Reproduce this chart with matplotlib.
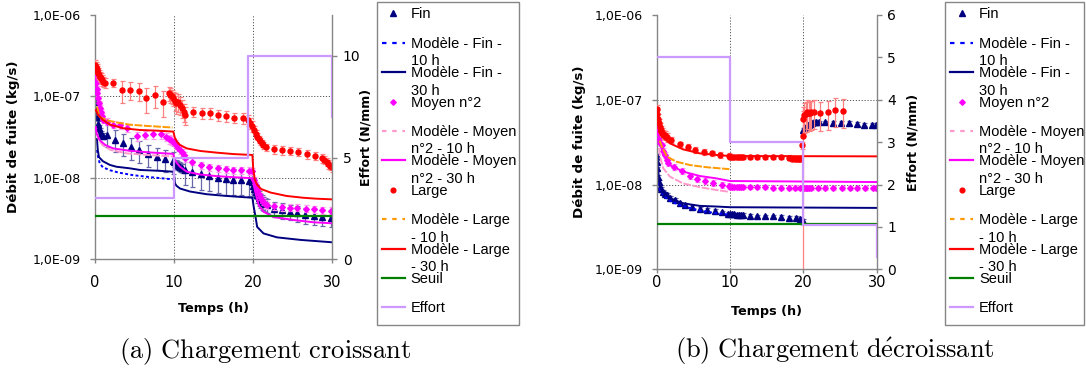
import matplotlib
matplotlib.use('Agg')
import matplotlib.pyplot as plt
from matplotlib.lines import Line2D
from matplotlib.patches import Rectangle
import numpy as np

plt.rcParams['mathtext.fontset'] = 'cm'
plt.rcParams['font.family'] = ['DejaVu Sans']

# ------------------------------------------------------------------ data (a)
a_fin_t = [0.0, 0.1, 0.2, 0.35, 0.5, 0.65, 0.8, 1.05, 1.5, 2.5, 3.6, 4.6, 5.6, 6.7, 7.8, 8.9, 9.8,
           10.0, 10.2, 10.4, 10.6, 10.8, 11.0, 11.4, 12.3, 13.4, 14.4, 15.5, 16.5, 17.5, 18.5, 19.5, 19.8,
           20.0, 20.1, 20.3, 20.5, 20.7, 20.9, 21.1, 21.3, 21.5, 21.7, 22.6, 23.6, 24.6, 25.6, 26.6, 27.7, 28.7, 29.8]
a_fin_v = [8.6e-8, 6.8e-8, 5.6e-8, 4.6e-8, 4.1e-8, 3.8e-8, 3.5e-8, 3.3e-8, 3.4e-8, 2.95e-8, 2.65e-8, 2.4e-8, 2.18e-8, 1.95e-8, 1.8e-8, 1.7e-8, 1.6e-8,
           1.55e-8, 1.48e-8, 1.42e-8, 1.38e-8, 1.35e-8, 1.32e-8, 1.25e-8, 1.19e-8, 1.1e-8, 1.05e-8, 1.0e-8, 9.6e-9, 9.4e-9, 9.4e-9, 9.1e-9, 8.9e-9,
           8.0e-9, 7.4e-9, 6.8e-9, 6.2e-9, 5.7e-9, 5.3e-9, 5.1e-9, 4.9e-9, 4.75e-9, 4.6e-9, 4.2e-9, 4.0e-9, 3.85e-9, 3.67e-9, 3.5e-9, 3.4e-9, 3.33e-9, 3.24e-9]
a_fin_e = [0.08, 0.08, 0.08, 0.08, 0.08, 0.08, 0.08, 0.08, 0.3, 0.3, 0.3, 0.3, 0.3, 0.3, 0.3, 0.3, 0.3,
           0.12, 0.12, 0.12, 0.12, 0.12, 0.12, 0.35, 0.35, 0.35, 0.35, 0.35, 0.35, 0.35, 0.35, 0.35, 0.35,
           0.2, 0.2, 0.2, 0.2, 0.2, 0.2, 0.2, 0.2, 0.2, 0.2, 0.22, 0.22, 0.22, 0.22, 0.22, 0.22, 0.22, 0.22]

a_moy_t = [0.0, 0.05, 0.1, 0.2, 0.3, 0.4, 0.5, 0.6, 0.75, 0.9, 1.05, 1.5, 2.3, 3.1, 4.1, 5.3, 6.3, 7.3, 8.3,
           9.0, 9.3, 9.6, 9.9, 10.1, 10.3, 10.5, 10.75, 11.0, 11.2, 11.4, 12.3, 13.4, 14.4, 15.5, 16.5, 17.5, 18.5, 19.5, 19.8,
           20.1, 20.3, 20.5, 20.7, 20.9, 21.1, 21.3, 21.5, 21.7, 22.6, 23.6, 24.7, 25.6, 26.7, 27.7, 28.7, 29.8]
a_moy_v = [1.9e-7, 1.65e-7, 1.45e-7, 1.25e-7, 1.1e-7, 9.5e-8, 8.2e-8, 7.2e-8, 6.5e-8, 5.8e-8, 5.1e-8, 4.9e-8, 4.5e-8, 4.4e-8, 4.1e-8, 3.25e-8, 3.4e-8, 3.45e-8, 3.45e-8,
           3.2e-8, 3.0e-8, 2.9e-8, 2.78e-8, 2.65e-8, 2.5e-8, 2.35e-8, 2.2e-8, 2.05e-8, 1.9e-8, 1.74e-8, 1.58e-8, 1.44e-8, 1.35e-8, 1.31e-8, 1.27e-8, 1.25e-8, 1.25e-8, 1.22e-8, 1.2e-8,
           9.4e-9, 8.2e-9, 7.1e-9, 6.4e-9, 5.9e-9, 5.4e-9, 5.1e-9, 4.8e-9, 4.6e-9, 4.5e-9, 4.4e-9, 4.3e-9, 4.3e-9, 4.2e-9, 4.1e-9, 4.0e-9, 3.95e-9]
a_moy_e = [0.08, 0.08, 0.08, 0.08, 0.08, 0.08, 0.08, 0.08, 0.08, 0.08, 0.08, 0.1, 0.1, 0.1, 0.1, 0.12, 0.12, 0.12, 0.12,
           0.12, 0.12, 0.12, 0.12, 0.1, 0.1, 0.1, 0.1, 0.1, 0.1, 0.1, 0.1, 0.1, 0.1, 0.1, 0.1, 0.1, 0.1, 0.1, 0.1,
           0.1, 0.1, 0.1, 0.1, 0.1, 0.1, 0.1, 0.1, 0.1, 0.1, 0.1, 0.1, 0.1, 0.1, 0.1, 0.1, 0.1]

a_lar_t = [0.0, 0.1, 0.2, 0.3, 0.4, 0.5, 0.6, 0.75, 0.85, 1.05, 1.25, 2.3, 3.4, 4.4, 5.5, 6.4, 7.6, 8.6,
           9.3, 9.5, 9.7, 9.9, 10.1, 10.3, 10.5, 10.75, 11.0, 11.2, 11.4, 12.4, 13.5, 14.5, 15.6, 16.6, 17.6, 18.7, 19.3, 19.6, 19.9,
           20.1, 20.3, 20.5, 20.7, 20.9, 21.1, 21.3, 21.6, 22.6, 23.6, 24.7, 25.7, 26.8, 27.8, 28.7, 29.0, 29.3, 29.5, 29.7, 29.9]
a_lar_v = [2.45e-7, 2.3e-7, 2.2e-7, 2.05e-7, 1.92e-7, 1.85e-7, 1.75e-7, 1.68e-7, 1.6e-7, 1.52e-7, 1.48e-7, 1.48e-7, 1.2e-7, 1.2e-7, 1.17e-7, 9.5e-8, 1.04e-7, 8.6e-8,
           1.1e-7, 1.05e-7, 1.0e-7, 9.5e-8, 8.8e-8, 8.2e-8, 8.5e-8, 7.9e-8, 7.2e-8, 6.5e-8, 5.9e-8, 6.5e-8, 6.3e-8, 6.2e-8, 5.9e-8, 5.75e-8, 5.5e-8, 5.4e-8, 5.1e-8, 4.7e-8, 4.3e-8,
           3.9e-8, 3.5e-8, 3.2e-8, 3.0e-8, 2.8e-8, 2.65e-8, 2.5e-8, 2.4e-8, 2.26e-8, 2.2e-8, 2.16e-8, 2.1e-8, 1.96e-8, 1.86e-8, 1.74e-8, 1.66e-8, 1.58e-8, 1.48e-8, 1.4e-8, 1.35e-8]
a_lar_e = [0.15, 0.15, 0.15, 0.15, 0.15, 0.15, 0.15, 0.15, 0.15, 0.15, 0.15, 0.12, 0.3, 0.25, 0.25, 0.35, 0.3, 0.35,
           0.2, 0.2, 0.2, 0.2, 0.25, 0.25, 0.25, 0.25, 0.25, 0.25, 0.25, 0.15, 0.15, 0.15, 0.15, 0.15, 0.15, 0.15, 0.15, 0.15, 0.15,
           0.1, 0.1, 0.1, 0.1, 0.1, 0.1, 0.1, 0.1, 0.12, 0.12, 0.12, 0.12, 0.12, 0.12, 0.12, 0.12, 0.12, 0.12, 0.12, 0.12]

a_f10_t = [0.25, 0.4, 0.6, 1.0, 1.9, 3.0, 4.8, 7.0, 9.8]
a_f10_v = [2.2e-8, 1.8e-8, 1.5e-8, 1.35e-8, 1.24e-8, 1.16e-8, 1.08e-8, 1.02e-8, 9.6e-9]
a_f30_t = [0.25, 0.35, 0.5, 1.0, 1.9, 2.7, 4.4, 5.7, 8.2, 9.9, 10.05, 10.1, 10.3, 10.75, 12.0, 14.1, 16.6, 19.9,
           20.05, 20.3, 20.5, 21.3, 23.0, 26.0, 29.9]
a_f30_v = [3.0e-8, 2.2e-8, 1.8e-8, 1.6e-8, 1.44e-8, 1.37e-8, 1.31e-8, 1.25e-8, 1.22e-8, 1.19e-8, 1.0e-8, 8.6e-9, 8.0e-9, 7.4e-9, 6.8e-9, 6.3e-9, 6.0e-9, 5.7e-9,
           4.5e-9, 3.3e-9, 2.5e-9, 2.08e-9, 1.86e-9, 1.73e-9, 1.62e-9]
a_m10_t = [0.25, 0.5, 1.0, 2.0, 4.0, 7.0, 9.9]
a_m10_v = [3.6e-8, 2.9e-8, 2.5e-8, 2.2e-8, 2.0e-8, 1.9e-8, 1.83e-8]
a_m30_t = [0.1, 0.2, 0.6, 1.3, 2.3, 4.4, 7.0, 9.9, 10.1, 10.4, 10.75, 11.6, 13.3, 15.4, 17.5, 19.9,
           20.1, 20.3, 20.7, 21.3, 22.6, 25.1, 27.6, 29.9]
a_m30_v = [4.2e-8, 3.5e-8, 2.9e-8, 2.53e-8, 2.3e-8, 2.15e-8, 2.05e-8, 1.97e-8, 1.66e-8, 1.5e-8, 1.37e-8, 1.19e-8, 1.1e-8, 1.05e-8, 1.02e-8, 9.9e-9,
           8.0e-9, 6.5e-9, 4.6e-9, 3.85e-9, 3.3e-9, 3.04e-9, 2.85e-9, 2.77e-9]
a_l10_t = [0.25, 0.6, 1.5, 2.7, 4.4, 6.5, 9.8]
a_l10_v = [7.5e-8, 5.6e-8, 5.1e-8, 4.8e-8, 4.5e-8, 4.35e-8, 4.15e-8]
a_l30_t = [0.1, 0.4, 1.05, 1.9, 3.6, 5.7, 7.8, 9.9, 10.1, 10.4, 10.75, 11.6, 13.3, 15.4, 17.5, 19.9,
           20.0, 20.2, 20.5, 21.0, 22.2, 24.2, 26.3, 28.0, 29.9]
a_l30_v = [6.8e-8, 5.9e-8, 5.1e-8, 4.5e-8, 4.06e-8, 3.87e-8, 3.8e-8, 3.7e-8, 3.1e-8, 2.75e-8, 2.53e-8, 2.3e-8, 2.14e-8, 2.04e-8, 1.96e-8, 1.91e-8,
           1.3e-8, 9.5e-9, 8.2e-9, 7.3e-9, 6.6e-9, 6.0e-9, 5.7e-9, 5.55e-9, 5.45e-9]
a_seuil_t = [0.0, 30.0]
a_seuil_v = [3.4e-9, 3.4e-9]
a_eff_t = [0.0, 10.0, 10.0, 19.4, 19.4, 30.0, 30.0]
a_eff_v = [3.0, 3.0, 5.0, 5.0, 10.0, 10.0, 7.0]

# ------------------------------------------------------------------ data (b)
b_fin_t = [0.0, 0.05, 0.1, 0.2, 0.3, 0.45, 0.6, 0.9, 1.1, 1.4, 1.8, 2.5, 3.2, 3.9, 4.8, 5.9, 6.9, 7.9, 8.9, 9.7,
           10.0, 10.3, 10.6, 10.9, 11.2, 11.5, 11.8, 12.7, 13.7, 14.8, 15.9, 16.9, 18.1, 19.0, 19.5, 19.9,
           20.0, 20.2, 20.4, 20.6, 20.8, 21.0, 21.2, 21.4, 21.7, 22.1, 23.0, 24.0, 25.1, 26.2, 27.3, 28.3, 29.3, 29.9]
b_fin_v = [2.2e-8, 1.85e-8, 1.55e-8, 1.24e-8, 1.08e-8, 9.4e-9, 8.8e-9, 8.2e-9, 7.8e-9, 7.5e-9, 6.9e-9, 6.6e-9, 6.0e-9, 5.7e-9, 5.4e-9, 5.2e-9, 5.0e-9, 4.9e-9, 4.7e-9, 4.55e-9,
           4.5e-9, 4.45e-9, 4.45e-9, 4.4e-9, 4.4e-9, 4.4e-9, 4.35e-9, 4.25e-9, 4.2e-9, 4.2e-9, 4.2e-9, 4.15e-9, 4.0e-9, 4.0e-9, 3.9e-9, 3.7e-9,
           4.4e-8, 4.6e-8, 4.8e-8, 5.0e-8, 5.1e-8, 5.2e-8, 5.3e-8, 5.4e-8, 5.4e-8, 5.4e-8, 5.4e-8, 5.3e-8, 5.3e-8, 5.3e-8, 5.2e-8, 5.1e-8, 5.1e-8, 5.1e-8]
b_fin_e = [0.05, 0.05, 0.05, 0.05, 0.05, 0.05, 0.05, 0.05, 0.05, 0.05, 0.05, 0.05, 0.05, 0.05, 0.05, 0.05, 0.05, 0.05, 0.05, 0.05,
           0.05, 0.05, 0.05, 0.05, 0.05, 0.05, 0.05, 0.05, 0.05, 0.05, 0.05, 0.05, 0.05, 0.05, 0.05, 0.05,
           0.06, 0.06, 0.06, 0.06, 0.06, 0.06, 0.06, 0.06, 0.06, 0.05, 0.05, 0.05, 0.05, 0.05, 0.05, 0.05, 0.05, 0.05]

b_moy_t = [0.0, 0.05, 0.2, 0.35, 0.5, 0.7, 0.9, 1.1, 1.35, 1.6, 2.3, 3.4, 4.5, 5.5, 6.6, 7.7, 8.9, 9.8,
           10.0, 10.3, 10.6, 10.9, 11.2, 11.5, 11.8, 12.7, 13.7, 14.8, 15.9, 16.9, 18.0, 18.9, 19.6, 19.9,
           20.1, 20.3, 20.5, 20.8, 21.0, 22.0, 23.0, 24.1, 25.2, 26.3, 27.3, 28.4, 29.5, 29.9]
b_moy_v = [5.5e-8, 4.6e-8, 4.0e-8, 3.4e-8, 3.1e-8, 2.9e-8, 2.5e-8, 2.23e-8, 1.95e-8, 1.78e-8, 1.62e-8, 1.44e-8, 1.26e-8, 1.15e-8, 1.1e-8, 1.05e-8, 1.0e-8, 9.6e-9,
           9.4e-9, 9.3e-9, 9.3e-9, 9.3e-9, 9.3e-9, 9.3e-9, 9.3e-9, 9.3e-9, 9.3e-9, 9.3e-9, 9.2e-9, 9.2e-9, 9.2e-9, 9.2e-9, 9.1e-9, 9.1e-9,
           9.1e-9, 9.1e-9, 9.1e-9, 9.1e-9, 9.1e-9, 9.1e-9, 9.1e-9, 9.1e-9, 9.1e-9, 9.1e-9, 9.1e-9, 9.1e-9, 9.1e-9, 9.1e-9]
b_moy_e = [0.08, 0.08, 0.08, 0.08, 0.08, 0.08, 0.08, 0.08, 0.08, 0.08, 0.08, 0.08, 0.08, 0.08, 0.08, 0.08, 0.08, 0.08,
           0.06, 0.06, 0.06, 0.06, 0.06, 0.06, 0.06, 0.06, 0.06, 0.06, 0.06, 0.06, 0.06, 0.06, 0.06, 0.06,
           0.06, 0.06, 0.06, 0.06, 0.06, 0.06, 0.06, 0.06, 0.06, 0.06, 0.06, 0.06, 0.06, 0.06]

b_lar_t = [0.0, 0.1, 0.2, 0.3, 0.45, 0.6, 0.75, 0.9, 1.1, 1.4, 2.0, 3.2, 4.2, 5.2, 6.4, 7.5, 8.6, 9.8,
           10.0, 10.3, 10.6, 10.9, 11.2, 11.5, 11.8, 12.7, 13.7, 14.7, 15.9, 16.9, 18.0,
           18.5, 18.8, 19.1, 19.4, 19.6, 19.8, 19.95,
           20.0, 20.1, 20.3, 20.5, 20.7, 20.9, 21.1, 21.4, 22.2, 23.3, 24.3, 25.4]
b_lar_v = [7.7e-8, 6.8e-8, 6.0e-8, 5.3e-8, 4.8e-8, 4.4e-8, 4.1e-8, 3.95e-8, 3.8e-8, 3.6e-8, 3.35e-8, 2.98e-8, 2.75e-8, 2.55e-8, 2.4e-8, 2.33e-8, 2.23e-8, 2.19e-8,
           2.12e-8, 2.1e-8, 2.1e-8, 2.1e-8, 2.1e-8, 2.1e-8, 2.1e-8, 2.1e-8, 2.1e-8, 2.12e-8, 2.12e-8, 2.1e-8, 2.08e-8,
           2.0e-8, 2.0e-8, 2.0e-8, 2.0e-8, 2.0e-8, 2.9e-8, 3.7e-8,
           6.0e-8, 6.6e-8, 6.8e-8, 7.2e-8, 6.9e-8, 7.0e-8, 7.1e-8, 7.2e-8, 6.9e-8, 7.1e-8, 7.6e-8, 7.4e-8]
b_lar_e = [0.12, 0.12, 0.12, 0.12, 0.12, 0.12, 0.12, 0.12, 0.12, 0.12, 0.08, 0.08, 0.08, 0.08, 0.08, 0.08, 0.08, 0.08,
           0.06, 0.06, 0.06, 0.06, 0.06, 0.06, 0.06, 0.06, 0.06, 0.06, 0.06, 0.06, 0.06,
           0.06, 0.06, 0.06, 0.06, 0.06, 0.1, 0.999,
           0.38, 0.38, 0.38, 0.38, 0.38, 0.38, 0.38, 0.38, 0.38, 0.38, 0.38, 0.38]

b_f10_t = [0.3, 0.45, 1.1, 2.0, 3.2, 4.5, 6.0, 8.0, 10.0]
b_f10_v = [1.05e-8, 8.6e-9, 7.2e-9, 6.3e-9, 5.7e-9, 5.3e-9, 4.9e-9, 4.6e-9, 4.4e-9]
b_f30_t = [0.2, 0.3, 0.45, 0.9, 1.8, 3.6, 5.9, 8.2, 10.0, 30.0]
b_f30_v = [1.5e-8, 1.15e-8, 9.4e-9, 7.9e-9, 6.9e-9, 6.0e-9, 5.6e-9, 5.5e-9, 5.4e-9, 5.3e-9]
b_m10_t = [0.3, 0.45, 0.9, 1.8, 3.6, 5.9, 8.2, 9.9]
b_m10_v = [2.7e-8, 2.13e-8, 1.55e-8, 1.24e-8, 1.03e-8, 9.3e-9, 8.6e-9, 8.2e-9]
b_m30_t = [0.3, 0.45, 0.9, 1.8, 3.6, 5.9, 8.2, 10.0, 30.0]
b_m30_v = [3.8e-8, 3.06e-8, 2.23e-8, 1.7e-8, 1.42e-8, 1.26e-8, 1.18e-8, 1.1e-8, 1.07e-8]
b_l10_t = [0.4, 0.7, 1.4, 2.7, 4.5, 6.8, 9.9]
b_l10_v = [3.3e-8, 2.8e-8, 2.13e-8, 1.86e-8, 1.7e-8, 1.6e-8, 1.52e-8]
b_l30_t = [0.3, 0.7, 1.8, 3.6, 5.9, 8.2, 10.0, 30.0]
b_l30_v = [4.2e-8, 3.67e-8, 3.06e-8, 2.6e-8, 2.33e-8, 2.23e-8, 2.17e-8, 2.15e-8]
b_seuil_t = [0.0, 30.0]
b_seuil_v = [3.45e-9, 3.45e-9]
b_eff_t = [0.0, 10.0, 10.0, 20.0, 20.0, 30.0, 30.0]
b_eff_v = [5.0, 5.0, 3.0, 3.0, 1.05, 1.05, 0.3]

# ------------------------------------------------------------------ texts / ticks
x_ticks = [0, 10, 20, 30]
y_ticks = [1e-9, 1e-8, 1e-7, 1e-6]
y_ticklabels = ['1,0E-09', '1,0E-08', '1,0E-07', '1,0E-06']
a_eff_ticks = [0, 5, 10]
b_eff_ticks = [0, 1, 2, 3, 4, 5, 6]
legend_labels = ['Fin', 'Modèle - Fin -\n10 h', 'Modèle - Fin -\n30 h', 'Moyen n°2',
                 'Modèle - Moyen\nn°2 - 10 h', 'Modèle - Moyen\nn°2 - 30 h', 'Large',
                 'Modèle - Large\n- 10 h', 'Modèle - Large\n- 30 h', 'Seuil', 'Effort']
captions = [r'$\mathrm{(a)\ Chargement\ croissant}$', r'$\mathrm{(b)\ Chargement\ d\acute{e}croissant}$']

# ------------------------------------------------------------------ styles
C_NAVY, C_BLUE, C_MAG, C_PINK = '#000080', '#0000FF', '#FF00FF', '#FF99CC'
C_RED, C_ORANGE, C_GREEN, C_LILAC = '#FF0000', '#FF9900', '#008000', '#CC99FF'
GRAY = '#868686'
DASH_FINE = (0, (4, 0.8))
DASH_DOT = (0, (1.5, 1.2))
DASH_LEG = (0, (2, 2.6))

W, H = 1086, 371
fig = plt.figure(figsize=(W / 100, H / 100), dpi=100, facecolor='white')


def fx(px):
    return px / W


def fy(py):
    return 1 - py / H


def panel(px_left, px_right, px_top, px_bottom, d, eff_lim, eff_ticks, xpad, xlab_top, ylab_right, y2lab_left):
    w_px = px_right - px_left
    h_px = px_bottom - px_top
    ax = fig.add_axes([fx(px_left), fy(px_bottom), w_px / W, h_px / H])
    ax.set_yscale('log')
    ax.set_xlim(0, 30)
    ax.set_ylim(1e-9, 1e-6)
    ax.set_xticks(x_ticks)
    ax.set_xticklabels([str(t) for t in x_ticks])
    ax.set_yticks(y_ticks)
    ax.set_yticklabels(y_ticklabels)
    ax.minorticks_off()
    for gx in x_ticks[1:-1]:
        ax.axvline(gx, color='#555555', lw=0.7, ls=(0, (1.2, 1.8)), zorder=0.5)
    for gy in y_ticks[1:-1]:
        ax.axhline(gy, color='#555555', lw=0.7, ls=(0, (1.2, 1.8)), zorder=0.5)
    for s in ['top', 'right']:
        ax.spines[s].set_visible(False)
    for s in ['left', 'bottom']:
        ax.spines[s].set_color(GRAY)
        ax.spines[s].set_linewidth(1.0)
    ax.tick_params(axis='x', colors=GRAY, labelcolor='black', labelsize=10.5, length=3, width=1.0, pad=xpad)
    ax.tick_params(axis='y', colors=GRAY, labelcolor='black', labelsize=9, length=3.6, width=1.0, pad=6.5)

    def pts(t, v, e, marker, ms, mc, ec, z):
        t = np.asarray(t)
        v = np.asarray(v)
        err = v * np.asarray(e)
        ax.errorbar(t, v, yerr=err, fmt='none', ecolor=ec, elinewidth=0.9, capsize=1.8, capthick=0.9, zorder=z)
        ax.plot(t, v, ls='none', marker=marker, ms=ms, color=mc, mec=mc, zorder=z + 0.1)

    pts(d['fin_t'], d['fin_v'], d['fin_e'], '^', 4.0, C_NAVY, '#6868A8', 2)
    ax.plot(d['f10_t'], d['f10_v'], color=C_BLUE, lw=1.4, ls=DASH_DOT, zorder=2.3)
    ax.plot(d['f30_t'], d['f30_v'], color=C_NAVY, lw=1.4, zorder=2.4)
    pts(d['moy_t'], d['moy_v'], d['moy_e'], 'D', 2.9, C_MAG, '#FF99EE', 2.5)
    ax.plot(d['m10_t'], d['m10_v'], color=C_PINK, lw=1.4, ls=DASH_FINE, zorder=2.7)
    ax.plot(d['m30_t'], d['m30_v'], color=C_MAG, lw=1.4, zorder=2.8)
    pts(d['lar_t'], d['lar_v'], d['lar_e'], 'o', 3.6, C_RED, '#FF8080', 2.9)
    ax.plot(d['l10_t'], d['l10_v'], color=C_ORANGE, lw=1.4, ls=DASH_FINE, zorder=3.1)
    ax.plot(d['l30_t'], d['l30_v'], color=C_RED, lw=1.4, zorder=3.2)
    ax.plot(d['seuil_t'], d['seuil_v'], color=C_GREEN, lw=1.6, zorder=3.3)

    ax.set_xlabel('Temps (h)', fontsize=9.2, fontweight='bold')
    ax.set_ylabel('Débit de fuite (kg/s)', fontsize=9.6, fontweight='bold')
    ax.xaxis.set_label_coords(0.5, (px_bottom - xlab_top) / h_px)
    ax.yaxis.set_label_coords((ylab_right - px_left) / w_px, 0.5)

    ax2 = ax.twinx()
    ax2.plot(d['eff_t'], d['eff_v'], color=C_LILAC, lw=1.6, zorder=3)
    ax2.set_ylim(*eff_lim)
    ax2.set_yticks(eff_ticks)
    ax2.set_yticklabels([str(t) for t in eff_ticks])
    for s in ['top', 'left', 'bottom']:
        ax2.spines[s].set_visible(False)
    ax2.spines['right'].set_color(GRAY)
    ax2.spines['right'].set_linewidth(1.0)
    ax2.tick_params(axis='y', colors=GRAY, labelcolor='black', labelsize=10, length=3.6, width=1.0, pad=4)
    ax2.set_ylabel('Effort (N/mm)', fontsize=9, fontweight='bold')
    ax2.yaxis.set_label_coords((y2lab_left - px_left) / w_px, 0.5)
    return ax, ax2


data_a = dict(fin_t=a_fin_t, fin_v=a_fin_v, fin_e=a_fin_e, moy_t=a_moy_t, moy_v=a_moy_v, moy_e=a_moy_e,
              lar_t=a_lar_t, lar_v=a_lar_v, lar_e=a_lar_e, f10_t=a_f10_t, f10_v=a_f10_v, f30_t=a_f30_t, f30_v=a_f30_v,
              m10_t=a_m10_t, m10_v=a_m10_v, m30_t=a_m30_t, m30_v=a_m30_v, l10_t=a_l10_t, l10_v=a_l10_v,
              l30_t=a_l30_t, l30_v=a_l30_v, seuil_t=a_seuil_t, seuil_v=a_seuil_v, eff_t=a_eff_t, eff_v=a_eff_v)
data_b = dict(fin_t=b_fin_t, fin_v=b_fin_v, fin_e=b_fin_e, moy_t=b_moy_t, moy_v=b_moy_v, moy_e=b_moy_e,
              lar_t=b_lar_t, lar_v=b_lar_v, lar_e=b_lar_e, f10_t=b_f10_t, f10_v=b_f10_v, f30_t=b_f30_t, f30_v=b_f30_v,
              m10_t=b_m10_t, m10_v=b_m10_v, m30_t=b_m30_t, m30_v=b_m30_v, l10_t=b_l10_t, l10_v=b_l10_v,
              l30_t=b_l30_t, l30_v=b_l30_v, seuil_t=b_seuil_t, seuil_v=b_seuil_v, eff_t=b_eff_t, eff_v=b_eff_v)

# panel (a): plot area 95..332 px wide, 15..259 px tall
panel(95, 332.3, 15, 259.3, data_a, (0, 12), a_eff_ticks, 8.6, 301.7, 20.5, 359.5)
# panel (b): plot area 657..877 px wide, 15..269 px tall
panel(656.7, 876.7, 15, 269.3, data_b, (0, 6), b_eff_ticks, 1.3, 305.5, 585.5, 906.5)

# ------------------------------------------------------------------ legends (drawn as boxes beside each chart)
leg_styles = [
    dict(marker='^', color=C_NAVY, ms=4.0),
    dict(ls=DASH_LEG, color=C_BLUE),
    dict(ls='-', color=C_NAVY),
    dict(marker='D', color=C_MAG, ms=2.8),
    dict(ls=DASH_LEG, color=C_PINK),
    dict(ls='-', color=C_MAG),
    dict(marker='o', color=C_RED, ms=3.4),
    dict(ls=DASH_LEG, color=C_ORANGE),
    dict(ls='-', color=C_RED),
    dict(ls='-', color=C_GREEN),
    dict(ls='-', color=C_LILAC),
]


def draw_legend(x0, x1, y0, y1, hx0, hx1, tx):
    fig.add_artist(Rectangle((fx(x0), fy(y1)), (x1 - x0) / W, (y1 - y0) / H, transform=fig.transFigure,
                             fill=False, edgecolor=GRAY, lw=1.0))
    for i, (lab, st) in enumerate(zip(legend_labels, leg_styles)):
        yc = 13.3 + 29.4 * i
        if 'marker' in st:
            fig.add_artist(Line2D([fx((hx0 + hx1) / 2)], [fy(yc)], transform=fig.transFigure, ls='none',
                                  marker=st['marker'], ms=st['ms'], color=st['color']))
        else:
            fig.add_artist(Line2D([fx(hx0), fx(hx1)], [fy(yc), fy(yc)], transform=fig.transFigure,
                                  ls=st['ls'], lw=1.6, color=st['color']))
        for k, line in enumerate(lab.split('\n')):
            fig.text(fx(tx), fy(yc + 5.2 + 17.3 * k), line, ha='left', va='baseline', fontsize=10.5,
                     family=['Liberation Sans', 'DejaVu Sans'], color='black')


draw_legend(376.7, 519, 1.7, 325, 381.7, 405, 410.7)
draw_legend(945, 1083.5, 1.7, 325, 950, 973.3, 979)

fig.text(fx(265), fy(358), captions[0], ha='center', va='baseline', fontsize=19)
fig.text(fx(835), fy(358), captions[1], ha='center', va='baseline', fontsize=19)

fig.savefig('out.png', dpi=100, facecolor='white')
